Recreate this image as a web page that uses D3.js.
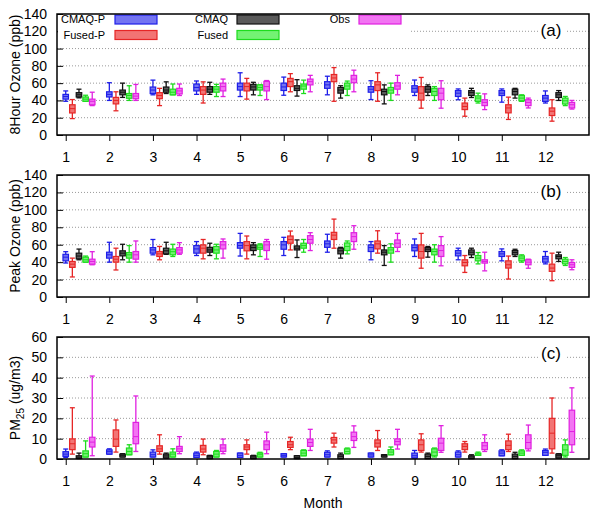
<!DOCTYPE html>
<html>
<head>
<meta charset="utf-8">
<script src="https://cdn.jsdelivr.net/npm/d3@7"></script>
<style>
  body { margin: 0; background: #fff; }
  text { font-family: "Liberation Sans", Arial, sans-serif; }
</style>
</head>
<body>
<svg id="chart" width="600" height="519"></svg>
<script>
// ---------------- DATA ----------------
const months = [1,2,3,4,5,6,7,8,9,10,11,12];
const seriesNames = ["CMAQ-P", "Fused-P", "CMAQ", "Fused", "Obs"];
const ozoneTicks = [0,20,40,60,80,100,120,140];
const pmTicks = [0,10,20,30,40,50,60];

// each month: [low whisker, q1, median, q3, high whisker]
// Panel (a) 8-hour ozone (ppb)
const o3_8h_cmaqp = [[39,41.5,44.5,47,51],[40,44,47,50,60.5],[46.5,48,52,55.5,63.5],[47,51,55,59,62.5],[44.5,52,56,60,72],[46,51.5,55.6,60,67],[46.5,54,58,61.7,68],[41,49.5,53,56,62.8],[45.7,49.5,54,57,63.6],[40.8,44.6,48.4,51.4,53.3],[38,45.7,48.4,51.4,53.3],[37,38.9,42.7,45.7,51]];
const o3_8h_fusedp = [[19,25.5,30.5,35,41],[28,36,40,43.5,50],[34,42,45.7,49,54],[37,47,52,56,61.5],[41.5,51,56,60,65.5],[50,56,61.7,65.5,71],[39,61.7,66,70,78],[39,51.4,58,61.7,72],[31,40.4,48.4,56,66.6],[21.7,29.4,33,37,42.7],[18,25.6,31.3,35,43.8],[16,22.5,27.5,31.3,40.8]];
const o3_8h_cmaq = [[43,44,46.5,49,53],[43.5,46.5,49.5,52,60],[48,49.5,52,55.5,61.5],[47,49.5,53,56,61],[46.5,52,55.6,58.6,61],[45,51.5,54,57,64],[42.7,48.4,52,55,57],[36,46.5,50.3,53,58],[45.7,49.5,53,56,58],[43.4,45.7,49,51.4,54],[42.7,46.5,50.3,53,54],[40,43.4,46.5,49,51.4]];
const o3_8h_fused = [[39,39,41.5,44,46],[40,42.5,45.7,48,57],[46.5,46.5,49.5,53,59],[44.5,49.5,53,56,58.6],[45.7,52,55,58,58],[48,53,56.7,59,63.5],[45.7,53,56.7,60,62.4],[40,48.4,52,55,60],[40,45.7,50.3,54,56],[37,38.9,42.7,45.3,48.4],[38.9,39.6,42.7,45.7,46.5],[34,35.8,39.6,42.7,44.6]];
const o3_8h_obs = [[34,35,39,41.5,49.5],[40,42,45,48,58.5],[45.7,47.5,51,54,59],[44.5,51,56,60,64.7],[41,51,56,62,63],[50,58,61.7,64.7,69],[50,60.5,64.7,69,75],[46.5,53,56.7,60.5,69],[31,40.8,48.4,54,62.8],[29.4,34,37.7,40.8,47.6],[31.3,34,37.7,40.8,42.7],[30,31.3,35,37.7,40]];

// Panel (b) peak ozone (ppb)
const o3_pk_cmaqp = [[39,41.5,45.7,49,52],[40,44.6,48.4,51.4,62.8],[48.4,50.3,54,56.7,66],[47.6,50.3,55.2,59,63.6],[47,56,59,62.4,73],[47.6,54.8,59.8,63.6,68.5],[51.4,57,61,64.3,72],[42.7,52.2,56.7,59.8,63.6],[46.5,53,56.7,59.8,66.6],[42.7,47.2,50.3,53.3,56],[41.5,46.5,49.5,52.2,55.2],[38,40,43.8,46.5,52.2]];
const o3_pk_fusedp = [[23,34,37.7,40.8,44.6],[31,40,43.4,46.5,56],[42.7,46.5,49.5,52.2,58],[43.8,50.3,56,59.8,66],[43.8,53,59,63.6,70],[54,61.7,66,70,75.7],[56,66,71,74.2,89.4],[50.3,55.2,61,64.3,76],[33,44.6,52.2,59.8,73],[28.2,35.8,39.6,42.7,47.6],[20.6,33.2,37,41.5,47],[18.7,29.4,33.2,37.7,50.3]];
const o3_pk_cmaq = [[42.7,43.8,47,50.3,55],[42.7,47.2,50.3,53,60.5],[49,49.5,53,56,62.8],[47.6,51.4,54,57,61.7],[48.4,53.3,56.7,59.8,62.4],[45.3,54,56,58.6,65.5],[44.6,49.5,53,56,57],[36.2,48.4,51.4,54,59],[45.7,52.2,54.8,56.7,58],[45.3,48.4,51.4,54,56],[46.5,48.4,51,53.3,54.8],[40.8,43.8,46.5,48.4,51.4]];
const o3_pk_fused = [[40,40,42.7,45.7,47],[40,44.6,48.4,51,59],[46.5,48.4,52,55,60.5],[43.8,50.3,54,58,60.5],[46.5,54.8,57,59.8,61],[51.4,56,59,61.7,66],[49.5,53.3,58,62,64.3],[40,50.3,54,56.7,61],[40,48.4,52.2,55,60],[38,41.5,44.6,47.6,51],[40,41.5,44.6,47.2,48.4],[36.2,38,40.8,43.4,45.3]];
const o3_pk_obs = [[37,37.7,40.8,43.4,52],[40,43.4,48.4,52.2,64.3],[49,50.3,54,56.7,62.4],[44.6,55.2,59.8,63.6,66.6],[43.4,53.3,59.8,63.6,66],[53.3,61.7,66,70.4,73.8],[54.8,63.6,69.3,73.8,81.8],[52.2,57,61.7,65.5,73],[35.8,46.5,53.3,59,69.3],[30,38.9,40.8,42.7,51.4],[33,37,40,42.7,43.4],[31.3,34,37,39.6,42.7]];

// Panel (c) PM2.5 (ug/m3)
const pm_cmaqp = [[0.8,1.3,2.4,3.6,4.9],[2.4,2.4,3.6,4.5,5],[1,1,2.1,3.4,4.5],[0.8,0.8,1.8,2.9,3.4],[0.8,0.8,1.8,2.9,2.9],[1,1,1.8,2.6,2.6],[1,1,2.1,3.3,4],[1,1,2,2.9,2.9],[0.5,0.5,1.6,2.9,4.2],[1,1,2.1,3.4,4],[1.6,1.6,2.9,4,4.5],[1.8,1.8,3.3,4.2,4.9]];
const pm_fusedp = [[2.4,4.6,7.5,9.9,25.2],[3.4,6.2,9.8,14.3,19.2],[2.4,3.7,5,6.5,11.9],[2.1,3.4,4.9,6.7,9.8],[2.4,4.6,5.9,7,9.4],[4.6,5.7,7,8.6,10.7],[5.9,7.8,9.4,10.6,12.7],[4.2,5.9,7.8,9.4,14],[3.4,4.2,7,9.4,12.4],[3.4,4.6,6.2,7.5,8.6],[3.7,4.6,6.7,8.9,12.2],[2.9,5,12.7,20,30]];
const pm_cmaq = [[0.2,0.3,0.9,1.6,2.9],[1,1,1.8,2.4,2.6],[0.5,0.5,1.5,2.4,2.9],[0.2,0.2,1,1.6,1.8],[0.2,0.2,1,1.6,1.8],[0.2,0.2,0.8,1.6,1.6],[0.2,0.2,1.3,2.1,2.9],[1,1,1.6,2.1,2.1],[0.2,0.2,1.3,2.4,2.9],[0.2,0.2,1,1.6,2.1],[0.2,0.2,1.3,2.4,3.3],[0.5,0.5,1.6,2.4,2.6]];
const pm_fused = [[1,1,2.6,4,8.9],[2.1,2.1,3.7,5.4,7],[1,1,2.4,3.4,5],[1,1,2.4,3.7,4.2],[1,1,2.1,2.9,3.3],[1.6,1.6,2.9,4.2,4.5],[2.6,2.6,3.7,5,5.4],[2.1,2.1,3.4,4.6,5.9],[1,1.6,3.4,5,5.4],[1.8,1.8,2.4,2.9,3.4],[1.8,1.8,2.9,4,4.5],[1,1.8,4.5,7,9.4]];
const pm_obs = [[1.6,5.9,8.3,10.7,40.8],[3.7,7.5,11,18,31],[2.6,3.7,5,6.2,11],[2.6,3.7,5.4,7,9.8],[2.6,4.6,7,8.9,13.2],[4.2,6.2,8.1,9.8,14.6],[5.7,9.1,11,13.2,16.3],[4.9,7,8.6,9.9,14.6],[3.3,4.2,7.8,10.2,16.4],[3.7,4.6,6.5,8.1,11.9],[4,5,8.1,11.9,16.7],[3.3,7,13.5,24,35]];

// ---------------- STYLE ----------------
const strokeColors = ["#1e1ee8", "#e62626", "#111111", "#1edc1e", "#e020e0"];
const fillColors   = ["#7474f2", "#f27474", "#5a5a5a", "#74f274", "#f274f2"];

const svg = d3.select("#chart");
const left = 57, right = 589;
const x = d3.scaleLinear().domain([0.8, 13.0]).range([left, right]);
const offStep = 0.152;
const boxW = 5.5;

const panels = [
  { id: "(a)", title: "8Hour Ozone (ppb)", top: 14, bottom: 135, domain: [0,140], ticks: ozoneTicks,
    data: [o3_8h_cmaqp, o3_8h_fusedp, o3_8h_cmaq, o3_8h_fused, o3_8h_obs], legend: true },
  { id: "(b)", title: "Peak Ozone (ppb)", top: 175, bottom: 297, domain: [0,140], ticks: ozoneTicks,
    data: [o3_pk_cmaqp, o3_pk_fusedp, o3_pk_cmaq, o3_pk_fused, o3_pk_obs] },
  { id: "(c)", title: "PM25", top: 337, bottom: 459, domain: [0,60], ticks: pmTicks,
    data: [pm_cmaqp, pm_fusedp, pm_cmaq, pm_fused, pm_obs], pm: true }
];

panels.forEach(p => {
  const y = d3.scaleLinear().domain(p.domain).range([p.bottom, p.top]);
  const g = svg.append("g");

  // gridlines
  g.selectAll("line.grid").data(p.ticks.slice(1, -1)).enter().append("line")
    .attr("x1", left).attr("x2", right)
    .attr("y1", d => y(d)).attr("y2", d => y(d))
    .attr("stroke", "#9a9a9a").attr("stroke-width", 1)
    .attr("stroke-dasharray", "1,2");

  // y axis (inward ticks)
  const yAxis = d3.axisLeft(y).tickValues(p.ticks).tickSize(-6).tickPadding(10).tickFormat(d3.format("d"));
  const ya = g.append("g").attr("transform", `translate(${left},0)`).call(yAxis);
  ya.select(".domain").remove();
  ya.selectAll("text").attr("font-size", 14).attr("fill", "#000").style("font-family", "Liberation Sans, Arial, sans-serif");
  ya.selectAll("line").attr("stroke", "#000");

  // x axis (outward ticks)
  const xAxis = d3.axisBottom(x).tickValues(months).tickSize(6).tickPadding(11).tickFormat(d3.format("d"));
  const xa = g.append("g").attr("transform", `translate(0,${p.bottom})`).call(xAxis);
  xa.select(".domain").remove();
  xa.selectAll("text").attr("font-size", 14).attr("fill", "#000").style("font-family", "Liberation Sans, Arial, sans-serif");
  xa.selectAll("line").attr("stroke", "#000");

  // panel label with white background
  const lx = 551, ly = p.top + 16;
  g.append("rect").attr("x", lx - 13).attr("y", ly - 10).attr("width", 27).attr("height", 20).attr("fill", "#fff");
  g.append("text").attr("x", lx).attr("y", ly).attr("dy", "0.35em").attr("text-anchor", "middle")
    .attr("font-size", 17).text(p.id);

  // legend
  if (p.legend) {
    g.append("rect").attr("x", left + 1).attr("y", p.top + 1).attr("width", 352).attr("height", 28).attr("fill", "#fff");
    const cols = [{tx: 105, sx: 115}, {tx: 228, sx: 237}, {tx: 350, sx: 359}];
    const order = [[0,0,0],[1,0,1],[2,1,0],[3,1,1],[4,2,0]]; // series, col, row
    order.forEach(([s, c, r]) => {
      const cy = 19.5 + r * 15.5;
      g.append("text").attr("x", cols[c].tx).attr("y", cy).attr("dy", "0.35em")
        .attr("text-anchor", "end").attr("font-size", 11).text(seriesNames[s]);
      g.append("rect").attr("x", cols[c].sx).attr("y", cy - 4.5).attr("width", 42).attr("height", 9)
        .attr("fill", fillColors[s]).attr("stroke", strokeColors[s]).attr("stroke-width", 1.2);
    });
  }

  // boxes
  p.data.forEach((series, s) => {
    const sg = g.append("g");
    series.forEach((v, i) => {
      const cx = x(months[i] + s * offStep);
      const [lo, q1, md, q3, hi] = v;
      const col = strokeColors[s];
      const bq1 = Math.min(q1, q3), bq3 = Math.max(q1, q3);
      sg.append("line").attr("x1", cx).attr("x2", cx).attr("y1", y(hi)).attr("y2", y(bq3)).attr("stroke", col).attr("stroke-width", 1.3);
      sg.append("line").attr("x1", cx).attr("x2", cx).attr("y1", y(bq1)).attr("y2", y(lo)).attr("stroke", col).attr("stroke-width", 1.3);
      sg.append("line").attr("x1", cx - 2.5).attr("x2", cx + 2.5).attr("y1", y(hi)).attr("y2", y(hi)).attr("stroke", col).attr("stroke-width", 1.3);
      sg.append("line").attr("x1", cx - 2.5).attr("x2", cx + 2.5).attr("y1", y(lo)).attr("y2", y(lo)).attr("stroke", col).attr("stroke-width", 1.3);
      const h = Math.max(y(bq1) - y(bq3), 2);
      sg.append("rect").attr("x", cx - boxW / 2).attr("y", y(bq3)).attr("width", boxW).attr("height", h)
        .attr("fill", fillColors[s]).attr("stroke", col).attr("stroke-width", 1.2);
      sg.append("line").attr("x1", cx - boxW / 2).attr("x2", cx + boxW / 2).attr("y1", y(md)).attr("y2", y(md))
        .attr("stroke", col).attr("stroke-width", 1);
    });
  });

  // frame
  g.append("rect").attr("x", left).attr("y", p.top).attr("width", right - left).attr("height", p.bottom - p.top)
    .attr("fill", "none").attr("stroke", "#000").attr("stroke-width", 1.5);

  // y title
  const cyT = (p.top + p.bottom) / 2;
  const t = g.append("text").attr("transform", `translate(20,${cyT}) rotate(-90)`)
    .attr("text-anchor", "middle").attr("font-size", 14);
  if (p.pm) {
    t.append("tspan").text("PM");
    t.append("tspan").attr("font-size", 10).attr("dy", 4).text("25");
    t.append("tspan").attr("dy", -4).text(" (ug/m3)");
  } else {
    t.text(p.title);
  }
});

svg.append("text").attr("x", (left + right) / 2).attr("y", 508).attr("text-anchor", "middle")
  .attr("font-size", 14).text("Month");
</script>
</body>
</html>
